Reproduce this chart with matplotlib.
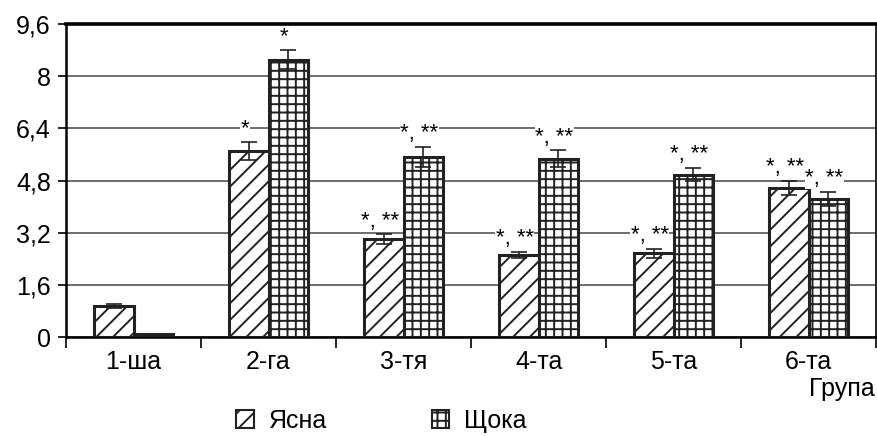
import matplotlib
matplotlib.use("Agg")
import matplotlib.pyplot as plt
import numpy as np
from matplotlib.patches import Patch

plt.rcParams["font.family"] = ["Liberation Sans", "DejaVu Sans"]
plt.rcParams["hatch.linewidth"] = 1.4

groups = ["1-ша", "2-га", "3-тя", "4-та", "5-та", "6-та"]
yasna = [0.95, 5.71, 3.0, 2.52, 2.57, 4.57]
yasna_err = [0.07, 0.27, 0.15, 0.10, 0.14, 0.22]
shchoka = [0.08, 8.51, 5.53, 5.47, 4.98, 4.24]
shchoka_err = [0.0, 0.29, 0.31, 0.26, 0.21, 0.22]
yasna_sig = ["", "*", "*, **", "*, **", "*, **", "*, **"]
shchoka_sig = ["", "*", "*, **", "*, **", "*, **", "*, **"]
yticks = [0, 1.6, 3.2, 4.8, 6.4, 8, 9.6]

fig = plt.figure(figsize=(8.77, 4.36), dpi=100)
ax = fig.add_axes([0.0753, 0.227, 0.9237, 0.718])

x = np.arange(len(groups))
w = 0.29
ekw = dict(ecolor="#222222", elinewidth=1.2, capthick=1.2)
ax.bar(x - w / 2, yasna, w, yerr=yasna_err, capsize=6, color="white",
       edgecolor="#222222", linewidth=2.2, hatch="//", error_kw=ekw, zorder=3)
ax.bar(x + w / 2, shchoka, w, yerr=shchoka_err, capsize=6, color="white",
       edgecolor="#222222", linewidth=2.2, hatch="++", error_kw=ekw, zorder=3)

# significance marks above the error bars
for xs, vals, errs, sigs in [(x - w / 2, yasna, yasna_err, yasna_sig),
                             (x + w / 2, shchoka, shchoka_err, shchoka_sig)]:
    for xi, v, e, s in zip(xs, vals, errs, sigs):
        if s:
            ax.text(xi - 0.03, v + e + 0.08, s, ha="center", va="bottom", fontsize=16,
                    zorder=5, bbox=dict(facecolor="white", edgecolor="none", pad=0.3))

ax.set_xlim(-0.5, len(groups) - 0.5)
ax.set_ylim(0, 9.6)
ax.set_yticks(yticks)
ax.set_yticklabels([f"{t:g}".replace(".", ",") for t in yticks], fontsize=18)
ax.yaxis.grid(True, color="#555555", linewidth=1.2, zorder=0)
ax.set_axisbelow(True)
ax.tick_params(axis="y", length=6, width=1.2, pad=5)

ax.set_xticks(x)
ax.set_xticklabels(groups, fontsize=18)
ax.tick_params(axis="x", length=0, pad=9)
ax.set_xticks(np.arange(len(groups) + 1) - 0.5, minor=True)
ax.tick_params(axis="x", which="minor", length=8, width=1.2)

for sp in ["left", "bottom"]:
    ax.spines[sp].set_linewidth(1.8)
ax.spines["top"].set_linewidth(2.6)
ax.spines["right"].set_linewidth(1.2)

fig.text(0.998, 0.108, "Група", ha="right", va="center", fontsize=18)

handles = [Patch(facecolor="white", edgecolor="#222222", hatch="//", linewidth=1.5, label="Ясна"),
           Patch(facecolor="white", edgecolor="#222222", hatch="++", linewidth=1.5, label="Щока")]
fig.legend(handles=handles, loc="center", bbox_to_anchor=(0.435, 0.035), ncol=2,
           frameon=False, fontsize=18, handlelength=0.7, handleheight=0.7,
           handletextpad=0.6, columnspacing=4.2)

fig.savefig("out.png", dpi=100)
